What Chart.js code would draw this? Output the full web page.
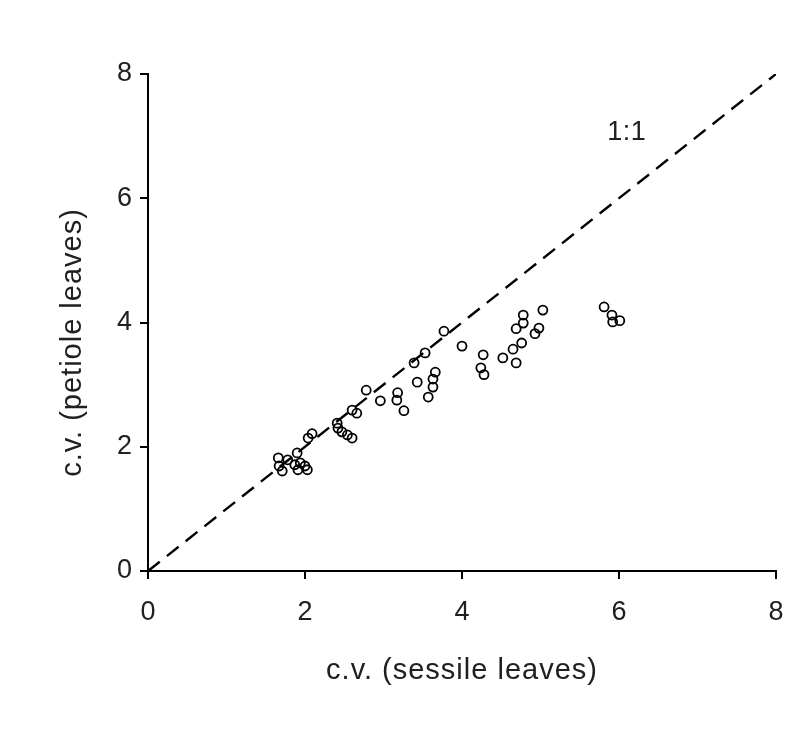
<!DOCTYPE html>
<html>
<head>
<meta charset="utf-8">
<script src="https://cdn.jsdelivr.net/npm/chart.js@4"></script>
<style>
  html, body { margin: 0; padding: 0; background: #fff; }
  #wrap { width: 810px; height: 740px; }
</style>
</head>
<body>
<div id="wrap"><canvas id="chart" width="810" height="740"></canvas></div>
<script>
// c.v. of sessile leaves (x) vs petiole leaves (y)
var sessileCV = [1.66, 1.67, 1.71, 1.78, 1.90, 1.87, 1.94, 2.00, 1.91, 2.03,
  2.04, 2.09, 2.41, 2.42, 2.47, 2.54, 2.60, 2.60, 2.66, 2.78,
  2.96, 3.18, 3.17, 3.26, 3.39, 3.53, 3.43, 3.66, 3.63, 3.63,
  3.57, 3.77, 4.00, 4.27, 4.24, 4.28, 4.52, 4.69, 4.65, 4.76,
  4.69, 4.78, 4.78, 4.93, 4.98, 5.03, 5.81, 5.91, 5.92, 6.01];
var petioleCV = [1.82, 1.69, 1.61, 1.79, 1.90, 1.71, 1.74, 1.69, 1.63, 1.63,
  2.14, 2.21, 2.38, 2.30, 2.24, 2.19, 2.14, 2.59, 2.54, 2.91,
  2.74, 2.87, 2.75, 2.58, 3.35, 3.51, 3.04, 3.20, 3.09, 2.96,
  2.80, 3.86, 3.62, 3.48, 3.27, 3.16, 3.43, 3.35, 3.57, 3.67,
  3.90, 3.99, 4.12, 3.82, 3.91, 4.20, 4.25, 4.12, 4.01, 4.03];

// 1:1 reference line
var oneToOneX = [0, 8];
var oneToOneY = [0, 8];
var oneToOneLabel = '1:1';
var oneToOneLabelAt = [6.1, 7.05];

var axisTicks = [0, 2, 4, 6, 8];
var xTitle = 'c.v. (sessile leaves)';
var yTitle = 'c.v. (petiole leaves)';

var FONT = '"Liberation Sans", Arial, sans-serif';
var TEXT = '#202020';

var titlesPlugin = {
  id: 'titlesAndLabel',
  afterDraw: function(chart) {
    var ctx = chart.ctx;
    var xs = chart.scales.x, ys = chart.scales.y;
    var area = chart.chartArea;
    ctx.save();
    ctx.fillStyle = TEXT;
    ctx.textAlign = 'center';
    ctx.textBaseline = 'middle';
    ctx.font = '27px ' + FONT;
    ctx.letterSpacing = '0.5px';
    // 1:1 label
    ctx.fillText(oneToOneLabel, xs.getPixelForValue(oneToOneLabelAt[0]), ys.getPixelForValue(oneToOneLabelAt[1]));
    ctx.font = '29px ' + FONT;
    ctx.letterSpacing = '1px';
    // x title
    ctx.fillText(xTitle, (area.left + area.right) / 2, area.bottom + 100);
    // y title
    ctx.translate(73, (area.top + area.bottom) / 2 + 20);
    ctx.rotate(-Math.PI / 2);
    ctx.fillText(yTitle, 0, 0);
    ctx.restore();
  }
};

var ctx = document.getElementById('chart').getContext('2d');
new Chart(ctx, {
  type: 'scatter',
  data: {
    datasets: [
      {
        label: '1:1',
        data: oneToOneX.map(function(x, i) { return { x: x, y: oneToOneY[i] }; }),
        showLine: true,
        borderColor: '#000',
        borderWidth: 2.4,
        borderDash: [15, 9],
        pointRadius: 0,
        fill: false,
        order: 2
      },
      {
        label: 'leaves',
        data: sessileCV.map(function(x, i) { return { x: x, y: petioleCV[i] }; }),
        showLine: false,
        pointStyle: 'circle',
        pointRadius: 4.5,
        pointBorderWidth: 1.8,
        borderColor: '#000',
        backgroundColor: 'rgba(0,0,0,0)',
        order: 1
      }
    ]
  },
  options: {
    responsive: false,
    animation: false,
    layout: { padding: { left: 0, top: 74, right: 34, bottom: 109 } },
    plugins: { legend: { display: false }, tooltip: { enabled: false } },
    scales: {
      x: {
        type: 'linear',
        min: 0, max: 8,
        afterBuildTicks: function(s) { s.ticks = axisTicks.map(function(v) { return { value: v }; }); },
        afterFit: function(s) { s.height = 60; },
        border: { display: true, color: '#000', width: 2 },
        grid: { drawOnChartArea: false, drawTicks: true, tickLength: 8, color: '#000', lineWidth: 2 },
        ticks: { color: TEXT, font: { family: FONT, size: 27 }, padding: 17, maxRotation: 0 }
      },
      y: {
        type: 'linear',
        min: 0, max: 8,
        afterBuildTicks: function(s) { s.ticks = axisTicks.map(function(v) { return { value: v }; }); },
        afterFit: function(s) { s.width = 148; },
        border: { display: true, color: '#000', width: 2 },
        grid: { drawOnChartArea: false, drawTicks: true, tickLength: 8, color: '#000', lineWidth: 2 },
        ticks: { color: TEXT, font: { family: FONT, size: 27 }, padding: 8 }
      }
    }
  },
  plugins: [titlesPlugin]
});
</script>
</body>
</html>
